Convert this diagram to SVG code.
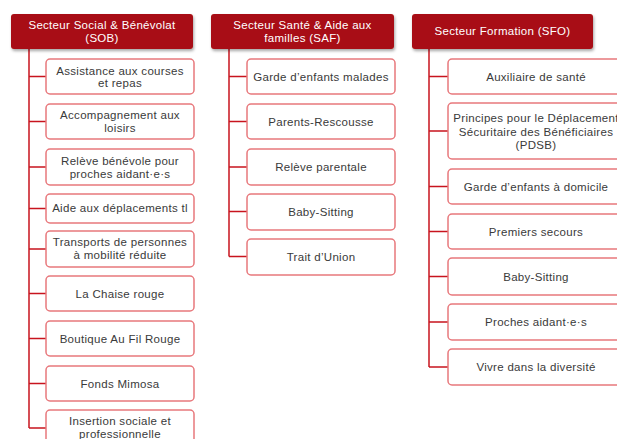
<svg xmlns="http://www.w3.org/2000/svg" width="617" height="439" viewBox="0 0 617 439">
<defs>
<filter id="sh" x="-10%" y="-20%" width="120%" height="160%">
<feDropShadow dx="1" dy="2" stdDeviation="1.5" flood-color="#000" flood-opacity="0.35"/>
</filter>
<style>
.hdr{fill:#A80F12;filter:url(#sh)}
.ht{fill:#fff;font-family:"Liberation Sans",Arial,sans-serif;font-size:11.5px;letter-spacing:0.3px;text-anchor:middle}
.box{fill:#fff;stroke:#E8787C;stroke-width:1.5}
.t{fill:#3a3a3a;font-family:"Liberation Sans",Arial,sans-serif;font-size:11.5px;letter-spacing:0.3px;text-anchor:middle}
.c{fill:none;stroke:#C8141E;stroke-width:1.5}
</style>
</defs>
<rect width="617" height="439" fill="#fff"/>
<g id="connectors">
<path class="c" d="M29,49V428M29,76.5H46M29,121.5H46M29,167H46M29,208.5H46M29,249H46M29,293.5H46M29,338.5H46M29,383.5H46M29,428H46"/>
<path class="c" d="M229,49V256.5M229,76.5H247M229,121.5H247M229,167H247M229,211.5H247M229,256.5H247"/>
<path class="c" d="M429,49V367M429,76.5H448M429,131H448M429,186.5H448M429,231.5H448M429,276.5H448M429,322H448M429,367H448"/>
</g>
<g id="h-sob"><rect class="hdr" x="11" y="14" width="182" height="35" rx="3"/><text class="ht" x="102" y="29">Secteur Social &amp; Bénévolat</text><text class="ht" x="102" y="42">(SOB)</text></g>
<g id="h-saf"><rect class="hdr" x="211" y="14" width="183" height="35" rx="3"/><text class="ht" x="302.5" y="29">Secteur Santé &amp; Aide aux</text><text class="ht" x="302.5" y="42">familles (SAF)</text></g>
<g id="h-sfo"><rect class="hdr" x="412" y="14" width="181" height="35" rx="3"/><text class="ht" x="502.5" y="35">Secteur Formation (SFO)</text></g>

<g id="sob1"><rect class="box" x="46" y="59" width="148" height="35" rx="4"/><text class="t" x="120" y="74.5">Assistance aux courses</text><text class="t" x="120" y="87">et repas</text></g>
<g id="sob2"><rect class="box" x="46" y="104" width="148" height="35" rx="4"/><text class="t" x="120" y="119">Accompagnement aux</text><text class="t" x="120" y="132">loisirs</text></g>
<g id="sob3"><rect class="box" x="46" y="149" width="148" height="36" rx="4"/><text class="t" x="120" y="164.5">Relève bénévole pour</text><text class="t" x="120" y="177.5">proches aidant·e·s</text></g>
<g id="sob4"><rect class="box" x="46" y="194" width="148" height="29" rx="4"/><text class="t" x="120" y="212">Aide aux déplacements  tl</text></g>
<g id="sob5"><rect class="box" x="46" y="231" width="148" height="36" rx="4"/><text class="t" x="120" y="246">Transports de personnes</text><text class="t" x="120" y="259">à mobilité réduite</text></g>
<g id="sob6"><rect class="box" x="46" y="276" width="148" height="35" rx="4"/><text class="t" x="120" y="297.5">La Chaise rouge</text></g>
<g id="sob7"><rect class="box" x="46" y="321" width="148" height="35" rx="4"/><text class="t" x="120" y="342.5">Boutique Au Fil Rouge</text></g>
<g id="sob8"><rect class="box" x="46" y="366" width="148" height="35" rx="4"/><text class="t" x="120" y="387.5">Fonds Mimosa</text></g>
<g id="sob9"><rect class="box" x="46" y="410" width="148" height="36" rx="4"/><text class="t" x="120" y="425">Insertion sociale et</text><text class="t" x="120" y="438">professionnelle</text></g>

<g id="saf1"><rect class="box" x="247" y="59" width="148" height="35" rx="4"/><text class="t" x="321" y="80.5">Garde d’enfants malades</text></g>
<g id="saf2"><rect class="box" x="247" y="104" width="148" height="35" rx="4"/><text class="t" x="321" y="125.5">Parents-Rescousse</text></g>
<g id="saf3"><rect class="box" x="247" y="149" width="148" height="36" rx="4"/><text class="t" x="321" y="170.5">Relève parentale</text></g>
<g id="saf4"><rect class="box" x="247" y="194" width="148" height="36" rx="4"/><text class="t" x="321" y="215.5">Baby-Sitting</text></g>
<g id="saf5"><rect class="box" x="247" y="239" width="148" height="36" rx="4"/><text class="t" x="321" y="260.5">Trait d’Union</text></g>

<g id="sfo1"><rect class="box" x="448" y="59" width="180" height="35" rx="4"/><text class="t" x="536" y="80.5">Auxiliaire de santé</text></g>
<g id="sfo2"><rect class="box" x="448" y="103" width="180" height="56" rx="4"/><text class="t" x="536" y="122">Principes pour le Déplacement</text><text class="t" x="536" y="135.5">Sécuritaire des Bénéficiaires</text><text class="t" x="536" y="149">(PDSB)</text></g>
<g id="sfo3"><rect class="box" x="448" y="169" width="180" height="35" rx="4"/><text class="t" x="536" y="190.5">Garde d’enfants à domicile</text></g>
<g id="sfo4"><rect class="box" x="448" y="214" width="180" height="35" rx="4"/><text class="t" x="536" y="235.5">Premiers secours</text></g>
<g id="sfo5"><rect class="box" x="448" y="258" width="180" height="37" rx="4"/><text class="t" x="536" y="280.5">Baby-Sitting</text></g>
<g id="sfo6"><rect class="box" x="448" y="304" width="180" height="36" rx="4"/><text class="t" x="536" y="325.5">Proches aidant·e·s</text></g>
<g id="sfo7"><rect class="box" x="448" y="349" width="180" height="36" rx="4"/><text class="t" x="536" y="370.5">Vivre dans la diversité</text></g>
</svg>
